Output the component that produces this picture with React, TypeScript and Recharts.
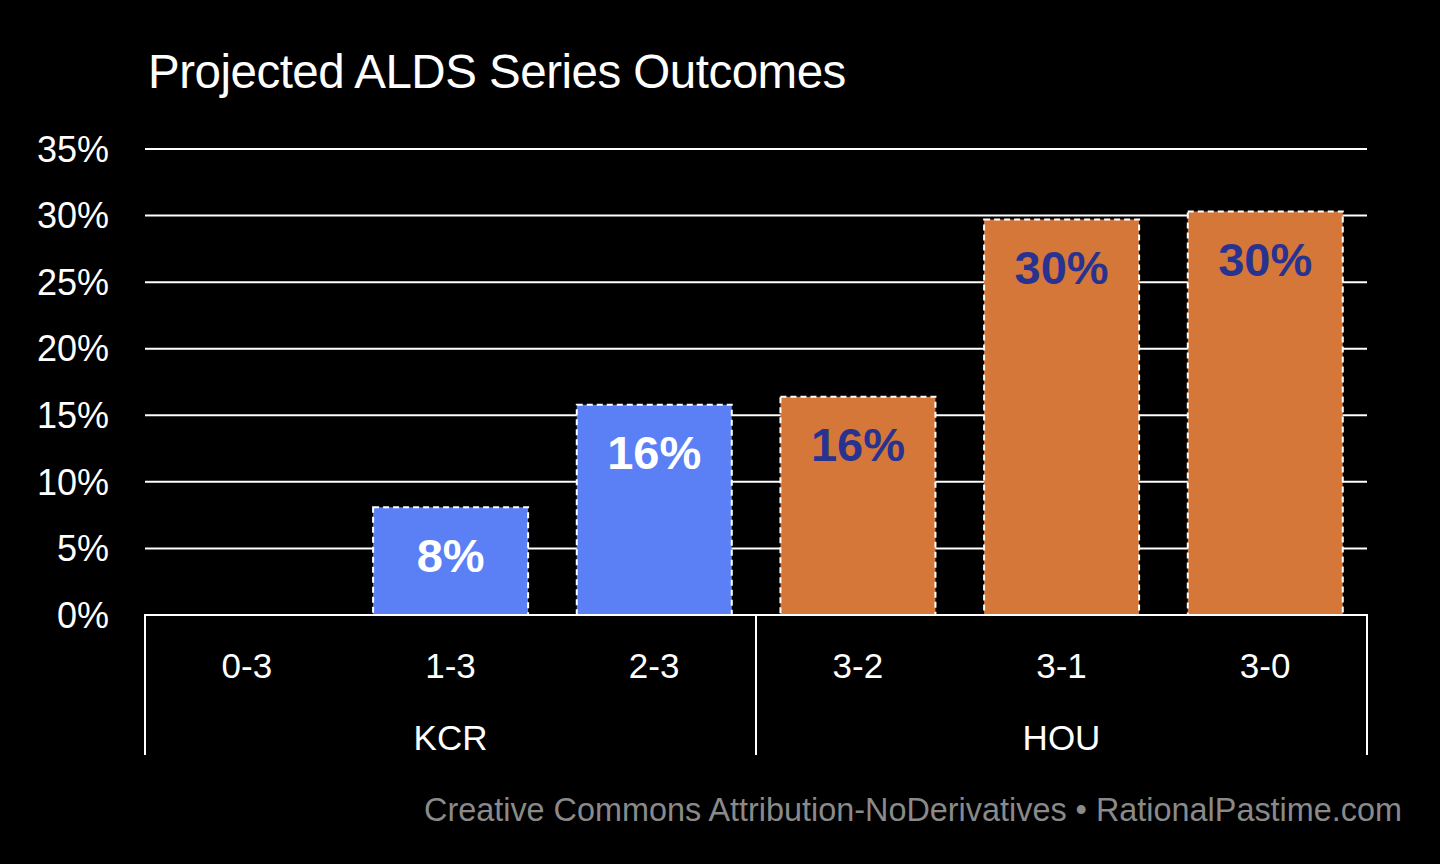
import React from "react";
import { BarChart, Bar, XAxis, YAxis, CartesianGrid, Cell, LabelList } from "recharts";

const categories = ["0-3", "1-3", "2-3", "3-2", "3-1", "3-0"];
const groups = ["KCR", "KCR", "KCR", "HOU", "HOU", "HOU"];
const values = [0, 8.1, 15.8, 16.4, 29.7, 30.3];
const yTicks = [0, 5, 10, 15, 20, 25, 30, 35];

const data = categories.map((c, i) => ({ cat: c, group: groups[i], value: values[i] }));

const W = 1440, H = 864;
const XH = 249;
const M = { top: 149, right: 73, bottom: 0, left: 0 };
const YW = 145;
const band = (W - M.right - YW) / categories.length;
const FONT = "'Liberation Sans', Arial, Helvetica, sans-serif";

const XTick = (props: any) => {
  const { x, y, payload } = props;
  const i = categories.indexOf(payload.value);
  const els: any[] = [];
  els.push(<text key="t" x={x} y={y + 42} textAnchor="middle" dominantBaseline="central" fill="#fff" fontSize={35} fontFamily={FONT}>{payload.value}</text>);
  if (i === 1 || i === 4) {
    els.push(<text key="g" x={x} y={y + 114} textAnchor="middle" dominantBaseline="central" fill="#fff" fontSize={35} fontFamily={FONT}>{groups[i]}</text>);
  }
  if (i === 0 || groups[i] !== groups[i - 1]) {
    els.push(<line key="l" x1={x - band / 2} x2={x - band / 2} y1={y - 9} y2={y + 132} stroke="#fff" strokeWidth={2} />);
  }
  if (i === categories.length - 1) {
    els.push(<line key="r" x1={x + band / 2} x2={x + band / 2} y1={y - 9} y2={y + 132} stroke="#fff" strokeWidth={2} />);
  }
  return <g>{els}</g>;
};

const BarLabel = (props: any) => {
  const { x, y, width, value } = props;
  if (!value || value <= 0) return null;
  const i = values.indexOf(value);
  const fill = groups[i] === "KCR" ? "#ffffff" : "#29338f";
  return (
    <text x={x + width / 2} y={y + 48} textAnchor="middle" dominantBaseline="central" fill={fill} fontSize={47} fontWeight="bold" fontFamily={FONT}>
      {Math.round(value)}%
    </text>
  );
};

export default function App() {
  return (
    <div style={{ position: "absolute", left: 0, top: 0, width: W, height: H, background: "#000", fontFamily: FONT }}>
      <div style={{ position: "absolute", left: 148, top: 44, color: "#fff", fontSize: 47.5, letterSpacing: -0.5 }}>Projected ALDS Series Outcomes</div>
      <BarChart width={W} height={H} data={data} margin={M} barCategoryGap="12%">
        <CartesianGrid vertical={false} stroke="#fff" strokeWidth={2} />
        <YAxis width={YW} domain={[0, 35]} ticks={yTicks} axisLine={false} tickLine={false}
          tickFormatter={(v: number) => `${v}%`}
          tick={{ fill: "#fff", fontSize: 36, fontFamily: FONT, dx: -28 } as any} />
        <XAxis dataKey="cat" interval={0} axisLine={{ stroke: "#fff", strokeWidth: 2 }} tickLine={false} tick={<XTick />} height={XH} />
        <Bar dataKey="value" isAnimationActive={false} stroke="#fff" strokeWidth={2} strokeDasharray="6 4">
          {data.map((d, i) => <Cell key={i} fill={d.group === "KCR" ? "#5b80f6" : "#d6773a"} />)}
          <LabelList dataKey="value" content={<BarLabel />} />
        </Bar>
      </BarChart>
      <div style={{ position: "absolute", right: 38, top: 792, color: "#8a8a8a", fontSize: 32.4 }}>Creative Commons Attribution-NoDerivatives • RationalPastime.com</div>
    </div>
  );
}
